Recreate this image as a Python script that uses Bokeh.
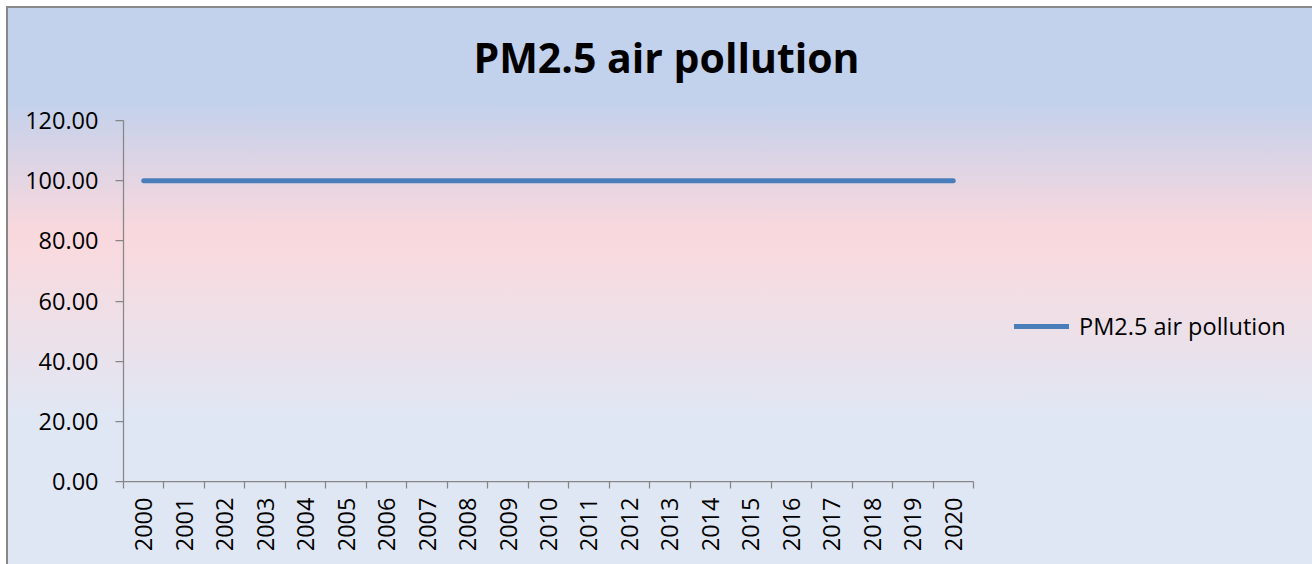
import math
from bokeh.plotting import figure
from bokeh.models import Range1d, FixedTicker, NumeralTickFormatter, Label, Legend, LegendItem
from bokeh.embed import file_html
from bokeh.resources import INLINE

# ---- data ----
years = list(range(2000, 2021))
year_labels = [str(y) for y in years]
pm25 = [100.0] * 21
series_name = "PM2.5 air pollution"
chart_title = "PM2.5 air pollution"
y_ticks = [0, 20, 40, 60, 80, 100, 120]
y_max = 120

# ---- layout (pixels) ----
W, H = 1312, 564
LEFT, TOP, BOTTOM = 123, 8, 83          # frame offsets inside the figure
AXIS_W, AXIS_H = 850, 361               # visible axis lengths
frame_w = W - LEFT
frame_h = H - TOP - BOTTOM

FONT = "Open Sans"
AXIS_COLOR = "#868686"

x0 = years[0] - 0.5
x1 = years[-1] + 0.5
x_end = x0 + (x1 - x0) * frame_w / AXIS_W
y_end = y_max * frame_h / AXIS_H

p = figure(width=W, height=H, output_backend="svg", toolbar_location=None,
           x_range=Range1d(x0, x_end), y_range=Range1d(0, y_end),
           min_border_left=LEFT, min_border_right=0,
           min_border_top=TOP, min_border_bottom=BOTTOM)

p.background_fill_color = None
p.border_fill_color = None
p.outline_line_color = None
p.styles = {
    "background": "linear-gradient(180deg, #C2D1EC 0px, #C2D1EC 100px, #F9D8DD 230px, #F8DADF 253px, #E0E7F4 418px, #E0E7F4 100%)",
    "box-shadow": "inset 6px 6px 0 0 #ffffff, inset 8px 8px 0 0 #888888",
}

p.xgrid.visible = False
p.ygrid.visible = False

# x axis: labels at year centres, ticks at category boundaries (minor ticks)
xa = p.xaxis[0]
xa.bounds = (x0, x1)
xa.ticker = FixedTicker(ticks=years, minor_ticks=[y - 0.5 for y in years] + [x1])
xa.major_label_overrides = {y: lab for y, lab in zip(years, year_labels)}
xa.major_label_orientation = math.pi / 2
xa.major_tick_out = 0
xa.major_tick_in = 0
xa.minor_tick_in = 0
xa.minor_tick_out = 7
xa.minor_tick_line_color = AXIS_COLOR
xa.minor_tick_line_width = 1.25
xa.axis_line_color = AXIS_COLOR
xa.axis_line_width = 1.25
xa.major_label_standoff = 9
xa.major_label_text_font = FONT
xa.major_label_text_font_size = "23.5px"
xa.major_label_text_color = "#000000"

ya = p.yaxis[0]
ya.bounds = (0, y_max)
ya.ticker = FixedTicker(ticks=y_ticks)
ya.formatter = NumeralTickFormatter(format="0.00")
ya.major_tick_in = 0
ya.major_tick_out = 8
ya.major_tick_line_color = AXIS_COLOR
ya.major_tick_line_width = 1.25
ya.minor_tick_line_color = None
ya.axis_line_color = AXIS_COLOR
ya.axis_line_width = 1.25
ya.major_label_standoff = 17
ya.major_label_text_font = FONT
ya.major_label_text_font_size = "23.5px"
ya.major_label_text_color = "#000000"

r = p.line(x=years, y=pm25, line_width=5, line_color="#4A7EBB", line_cap="round")

legend = Legend(items=[LegendItem(label=series_name, renderers=[r])],
                location=(1014 - LEFT, 139), orientation="vertical",
                background_fill_alpha=0, border_line_color=None,
                padding=0, margin=0, spacing=0,
                glyph_width=55, glyph_height=26, label_standoff=10,
                label_text_font=FONT, label_text_font_size="23.5px",
                label_text_color="#000000")
p.add_layout(legend, "center")

title = Label(x=666 - LEFT, y=(H - BOTTOM) - 56, x_units="screen", y_units="screen",
              text=chart_title, text_align="center", text_baseline="alphabetic",
              text_font=FONT, text_font_style="bold", text_font_size="41px",
              text_color="#000000")
p.add_layout(title)

open("out.html", "w").write(file_html(p, INLINE))
